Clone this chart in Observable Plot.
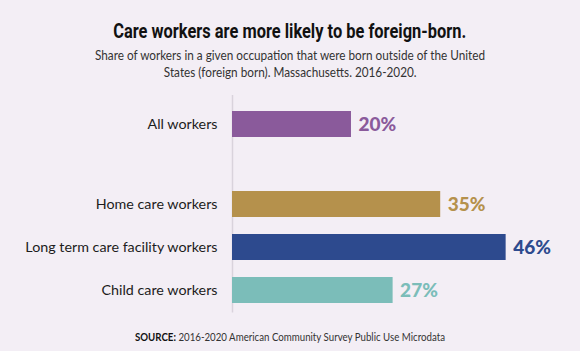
<!DOCTYPE html>
<html>
<head>
<meta charset="utf-8">
<script src="https://cdn.jsdelivr.net/npm/d3@7"></script>
<script src="https://cdn.jsdelivr.net/npm/@observablehq/plot@0.6"></script>
<style>
  html, body { margin: 0; padding: 0; }
  body { width: 580px; height: 351px; background: #f3eef5; position: relative; overflow: hidden; font-family: Lato, "Open Sans", sans-serif; color: #1c1c1c; }
  .line { position: absolute; left: 0; width: 580px; text-align: center; white-space: nowrap; }
  .line span { display: inline-block; transform-origin: center center; }
  #title { top: 21px; font-family: Roboto, sans-serif; font-weight: 700; font-size: 19.5px; line-height: 22px; color: #111; }
  #sub1 { top: 47px; font-size: 13.5px; line-height: 17px; color: #333; }
  #sub2 { top: 63.5px; font-size: 13.5px; line-height: 17px; color: #333; }
  #chart { position: absolute; left: 0; top: 90px; }
  #source { top: 330px; font-size: 11px; line-height: 14px; color: #333; }
  #source b { font-weight: 700; color: #111; }
</style>
</head>
<body>
<div class="line" id="title"><span>Care workers are more likely to be foreign-born.</span></div>
<div class="line" id="sub1"><span>Share of workers in a given occupation that were born outside of the United</span></div>
<div class="line" id="sub2"><span>States (foreign born). Massachusetts. 2016-2020.</span></div>
<div id="chart"></div>
<div class="line" id="source"><span><b>SOURCE:</b> 2016-2020 American Community Survey Public Use Microdata</span></div>
<script>
const categories = ["All workers", "Home care workers", "Long term care facility workers", "Child care workers"];
const shares = [20, 35, 46, 27];
const colors = ["#8a5a9b", "#b5914c", "#2d4a8e", "#7bbdb9"];
const groups = ["all", "care", "care", "care"];

const data = categories.map((c, i) => ({category: c, share: shares[i], group: groups[i]}));
const yDomain = [categories[0], " ", ...categories.slice(1)];
const allRows = data.filter(d => d.group === "all");
const careRows = data.filter(d => d.group === "care");

function marksFor(rows, dy) {
  return [
    Plot.barX(rows, {x: "share", y: "category", fill: "category", dy}),
    Plot.text(rows, {x: 0, y: "category", text: "category", dx: -15, dy, textAnchor: "end", fontSize: 14.3, fill: "#1c1c1c"}),
    Plot.text(rows, {x: "share", y: "category", text: d => d.share + "%", dx: 7, dy: dy + 0.5, textAnchor: "start", fontSize: 19, fontWeight: 900, fill: "category"})
  ];
}

const chart = Plot.plot({
  width: 580,
  height: 230,
  marginLeft: 232,
  marginRight: 0,
  marginTop: 5,
  marginBottom: 7.5,
  style: {background: "transparent", fontFamily: "Lato, sans-serif", overflow: "visible"},
  x: {domain: [0, 58.5], axis: null},
  y: {domain: yDomain, axis: null, paddingInner: 0.4, paddingOuter: 0.2},
  color: {domain: categories, range: colors},
  marks: [
    Plot.ruleX([0], {stroke: "#d9d3dc", strokeWidth: 1.5}),
    ...marksFor(allRows, 6),
    ...marksFor(careRows, 0)
  ]
});
document.getElementById("chart").appendChild(chart);

function fitX(id, target) {
  const span = document.querySelector("#" + id + " span");
  const k = target / span.getBoundingClientRect().width;
  span.style.transform = "scaleX(" + k + ")";
  return k;
}
fitX("title", 353);
const kSub = fitX("sub1", 390);
document.querySelector("#sub2 span").style.transform = "scaleX(" + kSub + ")";
fitX("source", 310);
</script>
</body>
</html>
